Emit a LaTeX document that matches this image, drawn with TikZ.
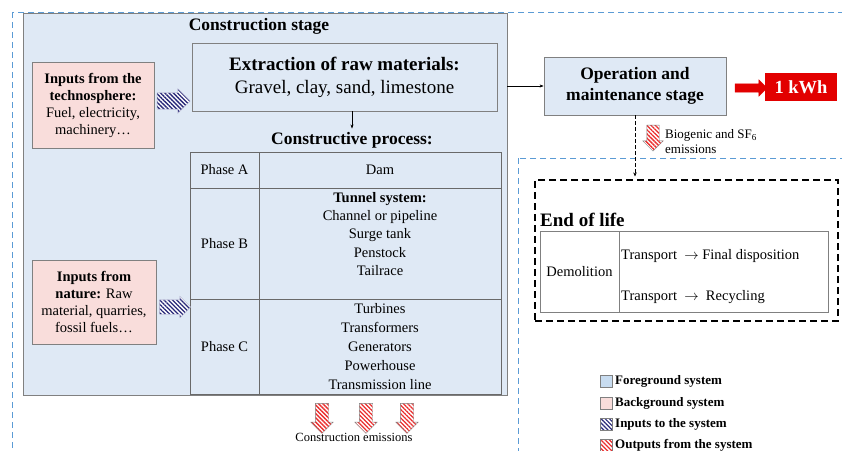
\documentclass[tikz,border=0pt]{standalone}
\usepackage{fontspec}
\setmainfont{Liberation Serif}
\usepackage{xcolor}
\usetikzlibrary{
    arrows.meta,
    shapes.arrows,
    patterns.meta,
    calc
}
\definecolor{fgfill}{RGB}{223,233,245}
\definecolor{legblue}{RGB}{200,220,240}
\definecolor{bgfill}{RGB}{249,221,219}
\definecolor{boxgray}{RGB}{128,128,128}
\definecolor{linegray}{RGB}{105,105,105}
\definecolor{frameblue}{RGB}{91,155,213}
\definecolor{inputblue}{RGB}{40,40,120}
\definecolor{outputred}{RGB}{235,45,45}
\definecolor{kwhred}{RGB}{226,0,0}
\newcommand{\fsize}[2]{\fontsize{#1}{#2}\selectfont}

\begin{document}
\begin{tikzpicture}[x=1pt, y=-1pt,
    fgbox/.style={draw=boxgray, fill=fgfill, line width=0.8pt, inner sep=0pt},
    bgbox/.style={draw=boxgray, fill=bgfill, line width=0.8pt, inner sep=0pt, align=center},
    cell/.style={font=\fsize{14.5}{17}},
    inarrow/.style={single arrow, draw=inputblue!40, line width=0.4pt, preaction={fill=white},
        pattern={Lines[angle=-45, distance=3pt, line width=1.3pt]}, pattern color=inputblue,
        minimum height=33, inner xsep=0pt, inner ysep=7.5pt, single arrow head extend=4},
    outarrow/.style={single arrow, draw=boxgray, line width=0.4pt, preaction={fill=white},
        pattern={Lines[angle=-45, distance=3pt, line width=1.3pt]}, pattern color=outputred,
        minimum height=30, inner xsep=0pt, inner ysep=6.5pt, single arrow head extend=4.5, rotate=-90},
    legendsq/.style={draw=boxgray, line width=0.5pt, minimum size=12, inner sep=0pt},
    frame/.style={draw=frameblue, line width=0.8pt, dash pattern=on 6pt off 4pt},
]
    \useasboundingbox (0,0) rectangle (842,450);

    % system boundaries
    \draw[frame] (12,12) rectangle (870,480);
    \draw[frame] (518,158) rectangle (870,480);

    % construction stage
    \node[fgbox, minimum width=484, minimum height=382] (cons) at (265,204) {};
    \node[font=\bfseries\fsize{17.5}{20}] (constitle) at (259,26) {Construction stage};

    \node[fgbox, minimum width=305, minimum height=68, align=center, font=\fsize{19}{23}] (extract) at (344.5,77)
        {\textbf{Extraction of raw materials:}\\Gravel, clay, sand, limestone};
    \node[font=\bfseries\fsize{17.5}{20}] (cproc) at (352,140) {Constructive process:};
    \draw[-{Stealth[length=4pt, width=3pt]}, line width=0.5pt] (extract.south -| cproc) -- (cproc.north);

    % table of phases
    \node[fgbox, draw=linegray, minimum width=311, minimum height=242] (phases) at (345.5,273) {};
    \draw[linegray, line width=0.8pt] (259,152) -- (259,394);
    \foreach \y in {188, 299} {
        \draw[linegray, line width=0.8pt] (190,\y) -- (501,\y);
    }
    \foreach \name/\y in {A/170, B/244, C/347} {
        \node[cell] (phase\name) at (224.5,\y) {Phase \name};
    }
    \node[cell] (dam) at (380,170) {Dam};
    \node[cell, font=\bfseries\fsize{14.5}{17}] (tunnel) at (380,199) {Tunnel system:};
    \foreach \item [count=\i] in {Channel or pipeline, Surge tank, Penstock, Tailrace} {
        \node[cell] (tunnel\i) at (380,199+18*\i) {\item};
    }
    \foreach \item [count=\i] in {Turbines, Transformers, Generators, Powerhouse, Transmission line} {
        \node[cell] (equip\i) at (380,289+19.2*\i) {\item};
    }

    % inputs
    \node[bgbox, minimum width=122, minimum height=86, font=\fsize{14.5}{17}] (techno) at (93,105)
        {\textbf{Inputs from the}\\\textbf{technosphere:}\\Fuel, electricity,\\machinery\ldots};
    \node[bgbox, minimum width=124, minimum height=84, font=\fsize{14.5}{17}] (nature) at (94,302)
        {\textbf{Inputs from}\\\textbf{nature:} Raw\\material, quarries,\\fossil fuels\ldots};
    \node[inarrow] (technoin) at (169.5,101) {};
    \node[inarrow, minimum height=31, inner ysep=7pt, single arrow head extend=3.5] (naturein) at (171.5,307) {};

    % construction emissions
    \foreach \x [count=\i] in {322, 366, 407} {
        \node[outarrow] (emis\i) at (\x,415) {};
    }
    \node[font=\fsize{12.5}{14}] (emistext) at (354,437) {Construction emissions};

    % operation stage
    \node[fgbox, minimum width=182, minimum height=58, align=center, font=\bfseries\fsize{17.5}{21}] (oper) at (635,86)
        {Operation and\\maintenance stage};
    \draw[-{Stealth[length=4pt, width=3pt]}, line width=0.5pt] (oper.west -| cons.east) -- (oper.west);
    \node[single arrow, fill=kwhred, draw=kwhred, minimum height=32, inner xsep=0pt, inner ysep=4pt,
        single arrow head extend=4] (kwharrow) at (749,88) {};
    \node[fill=kwhred, minimum width=72, minimum height=28, inner sep=0pt, text=white,
        font=\bfseries\fsize{18.5}{20}] (kwh) at (801,87) {1 kWh};

    \node[outarrow, minimum height=26, inner ysep=6pt, single arrow head extend=4] (bioarrow) at (653,135) {};
    \node[anchor=west, align=left, inner sep=0pt, font=\fsize{13}{15}] (biotext) at (665,142)
        {Biogenic and SF\textsubscript{6}\\emissions};

    % end of life
    \node[draw, line width=1.1pt, dash pattern=on 7pt off 4pt, minimum width=303, minimum height=141,
        inner sep=0pt] (eol) at (686.5,250.5) {};
    \draw[dash pattern=on 4pt off 2pt, line width=0.6pt, shorten >=3pt, -{Stealth[length=4pt, width=3.5pt]}]
        (oper.south) -- (eol.north -| oper.south);
    \node[anchor=west, inner sep=0pt, font=\bfseries\fsize{19}{22}] (eoltitle) at (540,220) {End of life};
    \node[draw=boxgray, line width=0.8pt, minimum width=288, minimum height=81, inner sep=0pt] (eoltab) at (684,271.5) {};
    \draw[boxgray, line width=0.8pt] (619,231) -- (619,312);
    \node[cell] (demol) at (579.5,272) {Demolition};
    \node[cell, anchor=west, inner sep=0pt] (final) at (621,256) {Transport \ $\rightarrow$ Final disposition};
    \node[cell, anchor=west, inner sep=0pt] (recyc) at (621,297) {Transport \ $\rightarrow$ \ Recycling};

    % legend
    \node[legendsq, fill=legblue] (leg1) at (606,381) {};
    \node[legendsq, fill=bgfill] (leg2) at (606,403) {};
    \node[legendsq, preaction={fill=white}, pattern={Lines[angle=-45, distance=3pt, line width=1.2pt]},
        pattern color=inputblue] (leg3) at (606,424) {};
    \node[legendsq, preaction={fill=white}, pattern={Lines[angle=-45, distance=3pt, line width=1.2pt]},
        pattern color=outputred] (leg4) at (606,445) {};
    \foreach \y/\txt [count=\i] in {381/Foreground system, 403/Background system,
        424/Inputs to the system, 445/Outputs from the system} {
        \node[anchor=west, inner sep=0pt, font=\bfseries\fsize{13}{15}] (legtxt\i) at (615,\y) {\txt};
    }
\end{tikzpicture}
\end{document}
